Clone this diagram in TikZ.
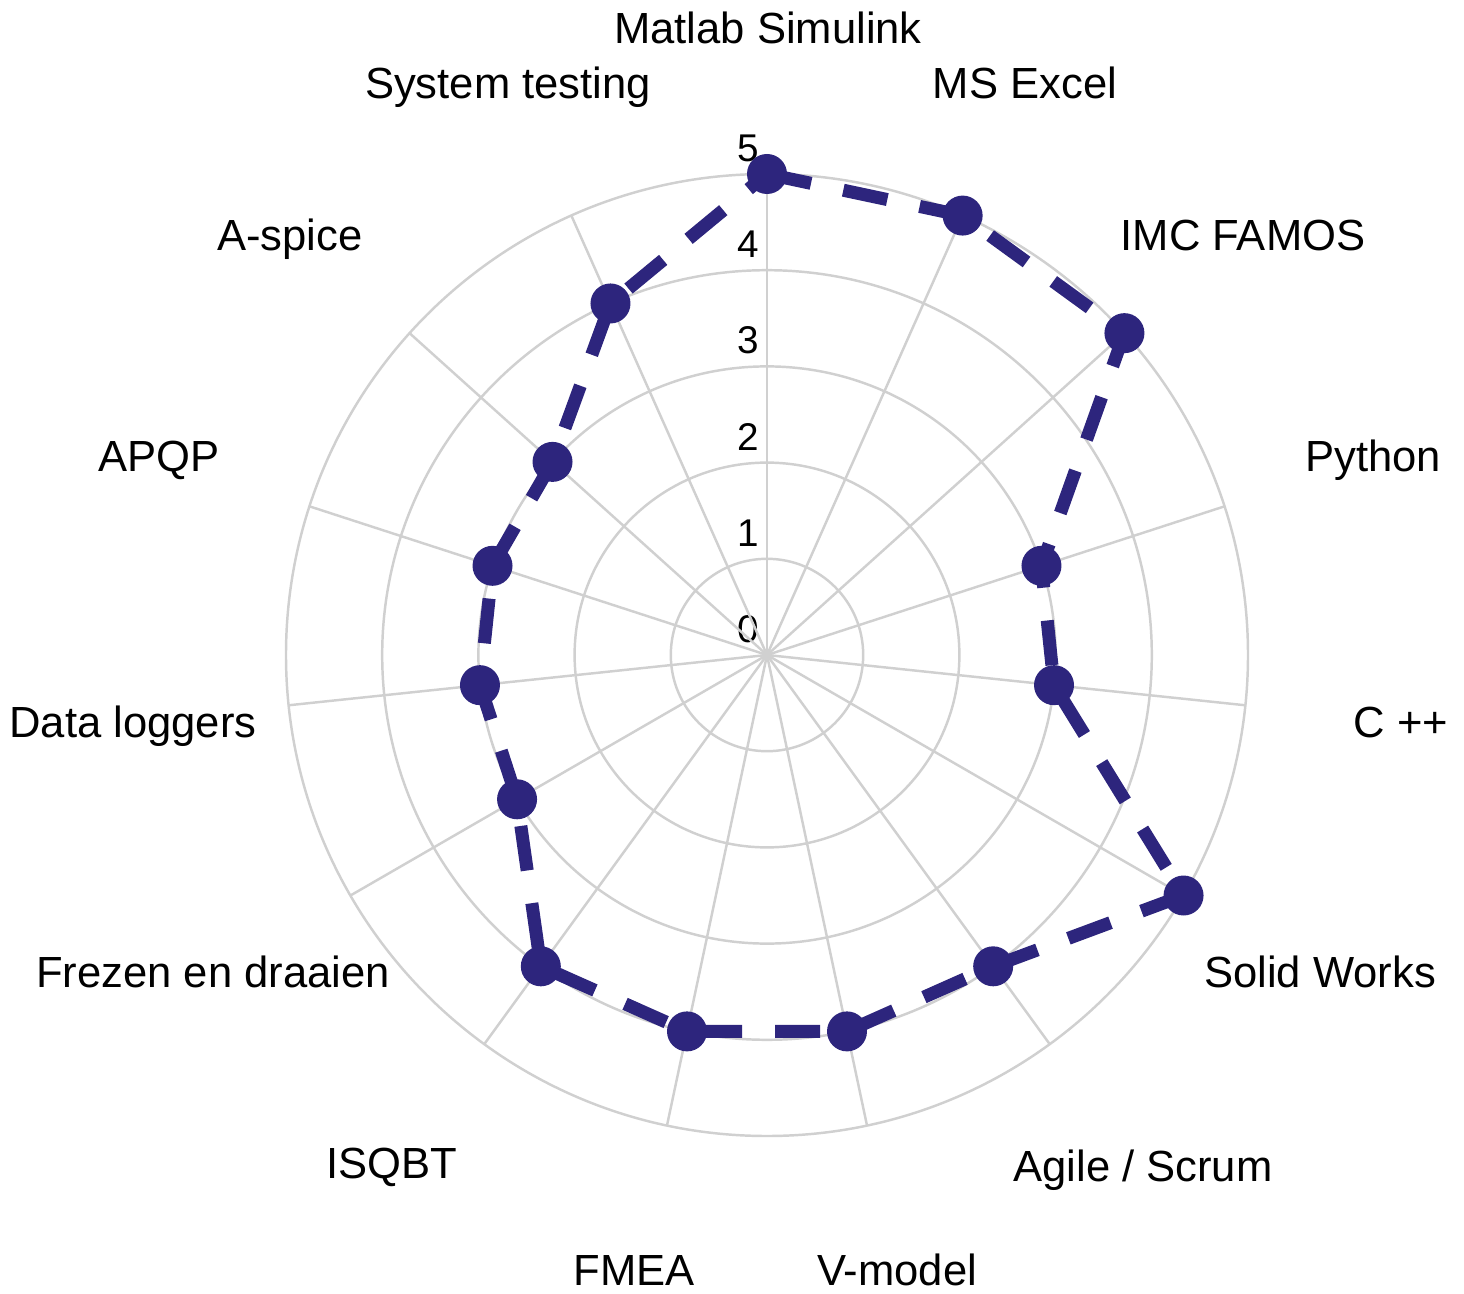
\documentclass[tikz,border=0pt]{standalone}
\usepackage{fontspec}
\setmainfont{Liberation Sans}
\definecolor{skillblue}{RGB}{45,37,125}
\definecolor{gridgray}{RGB}{208,208,208}
\tikzset{
  gridline/.style={draw=gridgray, line width=0.7pt},
  skillline/.style={draw=skillblue, line width=0.13cm, dash pattern=on 0.45cm off 0.33cm},
  skilldot/.style={circle, fill=skillblue, inner sep=0pt, minimum size=0.4cm},
  axislabel/.style={anchor=base, font=\fontsize{12.4}{15}\selectfont},
  ticklabel/.style={font=\fontsize{11}{13}\selectfont}
}

\begin{document}
\begin{tikzpicture}
    \useasboundingbox (-7.67,-6.38) rectangle (6.97,6.55);

    % scale values
    \node[ticklabel] (t0) at (-0.19,0.26){0};
    \node[ticklabel] (t1) at (-0.19,1.22){1};
    \node[ticklabel] (t2) at (-0.19,2.18){2};
    \node[ticklabel] (t3) at (-0.19,3.15){3};
    \node[ticklabel] (t4) at (-0.19,4.11){4};
    \node[ticklabel] (t5) at (-0.19,5.07){5};

    % rings
    \draw[gridline] (0,0) circle (0.962);
    \draw[gridline] (0,0) circle (1.924);
    \draw[gridline] (0,0) circle (2.886);
    \draw[gridline] (0,0) circle (3.848);
    \draw[gridline] (0,0) circle (4.81);

    % spokes
    \coordinate (o) at (0,0);
    \draw[gridline] (o) -- (90:4.81);
    \draw[gridline] (o) -- (66:4.81);
    \draw[gridline] (o) -- (42:4.81);
    \draw[gridline] (o) -- (18:4.81);
    \draw[gridline] (o) -- (-6:4.81);
    \draw[gridline] (o) -- (-30:4.81);
    \draw[gridline] (o) -- (-54:4.81);
    \draw[gridline] (o) -- (-78:4.81);
    \draw[gridline] (o) -- (-102:4.81);
    \draw[gridline] (o) -- (-126:4.81);
    \draw[gridline] (o) -- (-150:4.81);
    \draw[gridline] (o) -- (-174:4.81);
    \draw[gridline] (o) -- (162:4.81);
    \draw[gridline] (o) -- (138:4.81);
    \draw[gridline] (o) -- (114:4.81);

    % skill levels
    \coordinate (p1) at (90:4.81);
    \coordinate (p2) at (66:4.81);
    \coordinate (p3) at (42:4.81);
    \coordinate (p4) at (18:2.886);
    \coordinate (p5) at (-6:2.886);
    \coordinate (p6) at (-30:4.81);
    \coordinate (p7) at (-54:3.848);
    \coordinate (p8) at (-78:3.848);
    \coordinate (p9) at (-102:3.848);
    \coordinate (p10) at (-126:3.848);
    \coordinate (p11) at (-150:2.886);
    \coordinate (p12) at (-174:2.886);
    \coordinate (p13) at (162:2.886);
    \coordinate (p14) at (138:2.886);
    \coordinate (p15) at (114:3.848);
    \draw[skillline] (p1) -- (p2) -- (p3) -- (p4) -- (p5) -- (p6) -- (p7) -- (p8)
      -- (p9) -- (p10) -- (p11) -- (p12) -- (p13) -- (p14) -- (p15) -- cycle;
    \node[skilldot] (d1) at (p1){};
    \node[skilldot] (d2) at (p2){};
    \node[skilldot] (d3) at (p3){};
    \node[skilldot] (d4) at (p4){};
    \node[skilldot] (d5) at (p5){};
    \node[skilldot] (d6) at (p6){};
    \node[skilldot] (d7) at (p7){};
    \node[skilldot] (d8) at (p8){};
    \node[skilldot] (d9) at (p9){};
    \node[skilldot] (d10) at (p10){};
    \node[skilldot] (d11) at (p11){};
    \node[skilldot] (d12) at (p12){};
    \node[skilldot] (d13) at (p13){};
    \node[skilldot] (d14) at (p14){};
    \node[skilldot] (d15) at (p15){};

    % skill names
    \node[axislabel] (matlab) at (0.01,6.11){Matlab Simulink};
    \node[axislabel] (excel) at (2.58,5.56){MS Excel};
    \node[axislabel] (famos) at (4.76,4.04){IMC FAMOS};
    \node[axislabel] (python) at (6.06,1.83){Python};
    \node[axislabel] (cpp) at (6.34,-0.82){C ++};
    \node[axislabel] (solid) at (5.53,-3.32){Solid Works};
    \node[axislabel] (agile) at (3.76,-5.26){Agile / Scrum};
    \node[axislabel] (vmodel) at (1.30,-6.30){V-model};
    \node[axislabel] (fmea) at (-1.33,-6.30){FMEA};
    \node[axislabel] (isqbt) at (-3.75,-5.23){ISQBT};
    \node[axislabel] (frezen) at (-5.54,-3.32){Frezen en draaien};
    \node[axislabel] (loggers) at (-6.34,-0.82){Data loggers};
    \node[axislabel] (apqp) at (-6.08,1.83){APQP};
    \node[axislabel] (aspice) at (-4.77,4.04){A-spice};
    \node[axislabel] (systest) at (-2.59,5.56){System testing};
\end{tikzpicture}
\end{document}
